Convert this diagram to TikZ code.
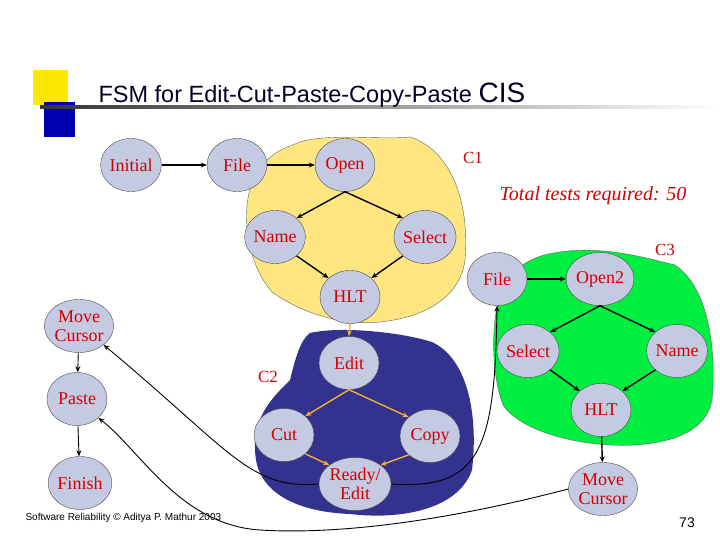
\documentclass[tikz,border=0pt]{standalone}
\usepackage{fontspec}
\setmainfont{Liberation Serif}
\newfontfamily\sansf{Liberation Sans}
\usetikzlibrary{arrows.meta,shapes.geometric}
\definecolor{nodefill}{HTML}{C3CAE2}
\definecolor{txtred}{HTML}{D40000}
\definecolor{blob1}{HTML}{FFE680}
\definecolor{blob2}{HTML}{33338F}
\definecolor{blob3}{HTML}{00EE40}
\definecolor{arry}{HTML}{F0B030}
\tikzset{
  st/.style={ellipse,draw=black!70,fill=nodefill,minimum width=60pt,minimum height=53pt,inner sep=0pt,align=center,font=\fontsize{18}{19}\selectfont,text=txtred},
  ar/.style={-{Stealth[length=6pt,width=5pt]},line width=1.4pt},
  ary/.style={ar,draw=arry},
  thinar/.style={-{Stealth[length=6pt,width=5pt]},line width=0.9pt},
  lab/.style={text=txtred,font=\fontsize{17}{17}\selectfont}}
\begin{document}
\begin{tikzpicture}[x=1pt,y=-1pt]
\useasboundingbox (0,0) rectangle (720,540);
\fill[white] (0,0) rectangle (720,540);
\fill[yellow!90!orange] (33,70) rectangle (68,105);
\fill[blue!70!black] (44,102) rectangle (75,137);
\shade[left color=black!80,right color=white] (40,106) rectangle (720,109);
\node[anchor=west,font=\sansf\fontsize{23.5}{24}\selectfont,text=black!85!blue] (title) at (95,95) {FSM for Edit-Cut-Paste-Copy-Paste \fontsize{28}{28}\selectfont CIS};
\fill[blob1,draw=black!60] (300,142) .. controls (330,133) and (380,140) .. (410,137) .. controls (450,150) and (470,200) .. (465,260) .. controls (460,300) and (420,318) .. (380,322) .. controls (340,326) and (300,312) .. (272,292) .. controls (245,262) and (238,200) .. (258,172) .. controls (270,152) and (285,148) .. (300,142) -- cycle;
\fill[blob2] (310,333) .. controls (340,326) and (400,332) .. (432,342) .. controls (470,360) and (478,420) .. (472,470) .. controls (458,510) and (400,520) .. (350,514) .. controls (300,512) and (262,495) .. (256,460) .. controls (250,420) and (270,400) .. (290,380) .. controls (295,360) and (300,340) .. (310,333) -- cycle;
\fill[blob3,draw=black!60] (560,252) .. controls (600,246) and (640,256) .. (675,265) .. controls (712,290) and (716,360) .. (712,400) .. controls (705,440) and (650,447) .. (610,445) .. controls (570,443) and (520,430) .. (503,405) .. controls (490,370) and (492,320) .. (500,295) .. controls (512,265) and (535,255) .. (560,252) -- cycle;
\node[st] (ini) at (131,165) {Initial};
\node[st] (file) at (237,165) {File};
\node[st] (open) at (345,165) {Open};
\node[st] (name) at (275,237) {Name};
\node[st] (sel) at (425,237) {Select};
\node[st] (hlt) at (350,297) {HLT};
\node[st] (edit) at (349,363) {Edit};
\node[st] (cut) at (284,435) {Cut};
\node[st] (copy) at (430,436) {Copy};
\node[st] (ready) at (355,484) {Ready/\\Edit};
\node[st] (file2) at (497,279) {File};
\node[st] (open2) at (600,279) {Open2};
\node[st] (sel2) at (528,351) {Select};
\node[st] (name2) at (677,351) {Name};
\node[st] (hlt2) at (601,410) {HLT};
\node[st] (mc2) at (603,489) {Move\\Cursor};
\node[st] (mc) at (79,326) {Move\\Cursor};
\node[st] (paste) at (77,399) {Paste};
\node[st] (fin) at (80,483) {Finish};
\node[lab] (c1) at (473,158) {C1};
\node[lab] (c2) at (268,377) {C2};
\node[lab] (c3) at (665,250) {C3};
\node[lab,font=\itshape\fontsize{20}{20}\selectfont] (tot) at (593,196) {Total tests required: 50};
\node[font=\sansf\fontsize{10}{10}\selectfont,anchor=west] (foot) at (22,518) {Software Reliability © Aditya P. Mathur 2003};
\node[font=\sansf\fontsize{14}{14}\selectfont] (pg) at (687,523) {73};
\draw[ar] (ini) -- (file);
\draw[ar] (file) -- (open);
\draw[ar] (open.south) -- (name.north east);
\draw[ar] (open.south) -- (sel.north west);
\draw[ar] (name.south east) -- (hlt.north west);
\draw[ar] (sel.south west) -- (hlt.north east);
\draw[ary] (hlt.south) -- (edit.north);
\draw[ary] (edit.south) -- (cut.north east);
\draw[ary] (edit.south) -- (copy.north west);
\draw[ary] (cut.south east) -- (ready.north west);
\draw[ary] (copy.south west) -- (ready.north east);
\draw[ar] (file2) -- (open2);
\draw[ar] (open2.south) -- (sel2.north east);
\draw[ar] (open2.south) -- (name2.north west);
\draw[ar] (sel2.south east) -- (hlt2.north west);
\draw[ar] (name2.south west) -- (hlt2.north east);
\draw[ar] (hlt2) -- (mc2);
\draw[thinar] (mc) -- (paste);
\draw[thinar] (paste) -- (fin);
\draw[thinar] (ready.west) .. controls (250,490) and (230,450) .. (mc.south east);
\draw[thinar] (ready.east) .. controls (480,490) and (495,450) .. (file2.south);
\draw[thinar] (mc2.west) .. controls (450,520) and (340,535) .. (260,530) .. controls (180,525) and (140,450) .. (paste.south east);
\end{tikzpicture}
\end{document}
